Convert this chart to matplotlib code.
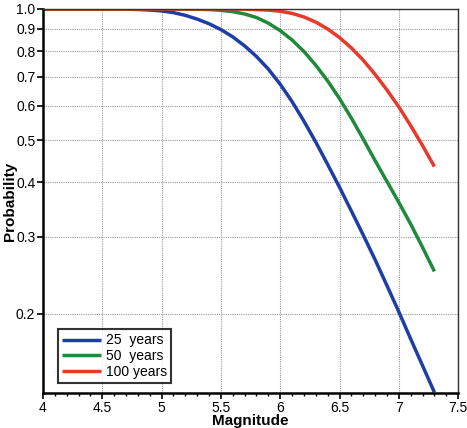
#Exceedance probability vs magnitude for several exposure periods

import numpy as np
import matplotlib.pyplot as plt
from matplotlib.ticker import FixedLocator, MultipleLocator, NullLocator, FixedFormatter

plt.rcParams['font.family'] = ['Liberation Sans', 'DejaVu Sans']

#Values
magnitude = [4.0, 4.1, 4.2, 4.3, 4.4, 4.5, 4.6, 4.7, 4.8, 4.9,
             5.0, 5.1, 5.2, 5.3, 5.4, 5.5, 5.6, 5.7, 5.8, 5.9,
             6.0, 6.1, 6.2, 6.3, 6.4, 6.5, 6.6, 6.7, 6.8, 6.9,
             7.0, 7.1, 7.2, 7.3]
p_25 = [1.0, 1.0, 1.0, 1.0, 1.0, 1.0, 1.0, 0.999, 0.9975, 0.9945,
        0.99, 0.981, 0.967, 0.948, 0.925, 0.897, 0.863, 0.823, 0.778, 0.728,
        0.672, 0.613, 0.553, 0.495, 0.44, 0.39, 0.344, 0.303, 0.266, 0.232,
        0.202, 0.175, 0.152, 0.132]
p_50 = [1.0, 1.0, 1.0, 1.0, 1.0, 1.0, 1.0, 1.0, 1.0, 1.0,
        1.0, 1.0, 0.9995, 0.999, 0.997, 0.993, 0.986, 0.974, 0.956, 0.928,
        0.892, 0.849, 0.799, 0.743, 0.684, 0.623, 0.562, 0.503, 0.449, 0.402,
        0.36, 0.321, 0.284, 0.25]
p_100 = [1.0, 1.0, 1.0, 1.0, 1.0, 1.0, 1.0, 1.0, 1.0, 1.0,
         1.0, 1.0, 1.0, 1.0, 1.0, 1.0, 0.9995, 0.999, 0.997, 0.994,
         0.988, 0.977, 0.959, 0.933, 0.90, 0.86, 0.814, 0.763, 0.708, 0.652,
         0.596, 0.54, 0.486, 0.435]
labels = ['25  years', '50  years', '100 years']
colors = ['#1f3da6', '#1f8a3b', '#e8392b']

y_ticks = [0.2, 0.3, 0.4, 0.5, 0.6, 0.7, 0.8, 0.9, 1.0]
y_ticklabels = ['0.2', '0.3', '0.4', '0.5', '0.6', '0.7', '0.8', '0.9', '1.0']
x_ticks = [4, 4.5, 5, 5.5, 6, 6.5, 7, 7.5]
x_ticklabels = ['4', '4.5', '5', '5.5', '6', '6.5', '7', '7.5']

fig = plt.figure(figsize=(4.67, 4.28), dpi=100)
ax = fig.add_axes([0.092, 0.082, 0.889, 0.897])

for p, lab, c in zip([p_25, p_50, p_100], labels, colors):
    ax.plot(magnitude, p, color=c, lw=2.5, label=lab, solid_capstyle='butt',
            solid_joinstyle='round')

ax.set_yscale('log')
ax.set_xlim(4, 7.5)
ax.set_ylim(0.1316, 1.0)
ax.yaxis.set_major_locator(FixedLocator(y_ticks))
ax.yaxis.set_major_formatter(FixedFormatter(y_ticklabels))
ax.yaxis.set_minor_locator(NullLocator())
ax.xaxis.set_major_locator(FixedLocator(x_ticks))
ax.xaxis.set_major_formatter(FixedFormatter(x_ticklabels))
ax.xaxis.set_minor_locator(MultipleLocator(0.1))

ax.grid(True, which='major', color='#9a9a9a', linestyle=(0, (1, 1)), linewidth=0.8)
ax.tick_params(axis='both', which='major', direction='out', length=4, width=1.2,
               labelsize=10, colors='black', pad=1.5)
ax.tick_params(axis='x', which='minor', direction='out', length=2.5, width=1.0)

for side in ['left', 'bottom']:
    ax.spines[side].set_linewidth(1.8)
for side in ['top', 'right']:
    ax.spines[side].set_linewidth(1.0)
    ax.spines[side].set_color('#333333')

ax.set_xlabel('Magnitude', fontsize=11, fontweight='bold')
ax.set_ylabel('Probability', fontsize=11, fontweight='bold')
ax.xaxis.set_label_coords(0.5, -0.055)
ax.yaxis.set_label_coords(-0.062, 0.5)

leg = ax.legend(loc='lower left', bbox_to_anchor=(0.025, 0.015), fontsize=10,
                frameon=True, fancybox=False, handlelength=2.8, handletextpad=0.4,
                labelspacing=0.12, borderpad=0.3, borderaxespad=0.3)
leg.get_frame().set_edgecolor('black')
leg.get_frame().set_linewidth(1.5)

plt.savefig('out.png', dpi=100)
